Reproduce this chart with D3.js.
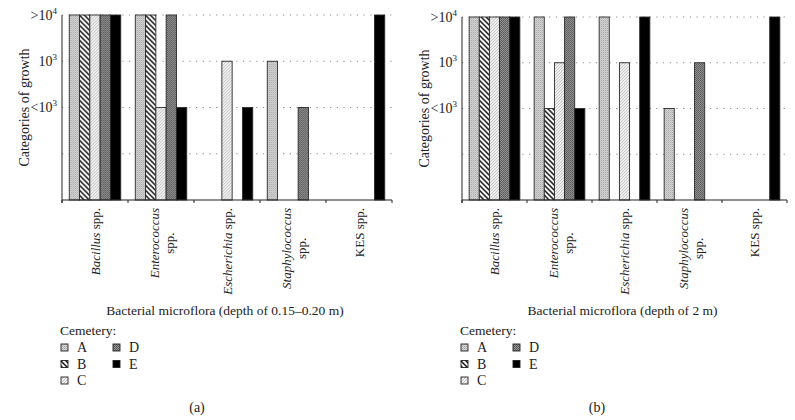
<!DOCTYPE html>
<html>
<head>
<meta charset="utf-8">
<script src="https://cdn.jsdelivr.net/npm/d3@7"></script>
<style>
  html, body { margin: 0; padding: 0; background: #fff; }
  svg { display: block; font-family: "Liberation Serif", "Times New Roman", serif; }
</style>
</head>
<body>
<svg id="chart" width="795" height="420"></svg>
<script>
// ---- data ----
const categories = ["Bacillus", "Enterococcus", "Escherichia", "Staphylococcus", "KES"];
const cemeteries = ["A", "B", "C", "D", "E"];
// growth category levels: 0 none, 2 = <10^3, 3 = 10^3, 4 = >10^4
const levelTicks = [1, 2, 3, 4];
const levelLabels = { 2: ["<10", "3"], 3: ["10", "3"], 4: [">10", "4"] };

// panel (a): depth 0.15–0.20 m  — values per category, in cemetery order A..E
const seriesA_a = [4, 4, 0, 3, 0];
const seriesB_a = [4, 4, 0, 0, 0];
const seriesC_a = [4, 2, 3, 0, 0];
const seriesD_a = [4, 4, 0, 2, 0];
const seriesE_a = [4, 2, 2, 0, 4];

// panel (b): depth 2 m
const seriesA_b = [4, 4, 4, 2, 0];
const seriesB_b = [4, 2, 0, 0, 0];
const seriesC_b = [4, 3, 3, 0, 0];
const seriesD_b = [4, 4, 0, 3, 0];
const seriesE_b = [4, 2, 4, 0, 4];

const titleA = "Bacterial microflora (depth of 0.15–0.20 m)";
const titleB = "Bacterial microflora (depth of 2 m)";

// ---- drawing ----
const svg = d3.select("#chart");
const defs = svg.append("defs");

// A: light grey speckle
const pA = defs.append("pattern").attr("id", "patA").attr("patternUnits", "userSpaceOnUse").attr("width", 2).attr("height", 2);
pA.append("rect").attr("width", 2).attr("height", 2).attr("fill", "#d8d8d8");
pA.append("rect").attr("width", 1).attr("height", 1).attr("fill", "#a2a2a2");
pA.append("rect").attr("x", 1).attr("y", 1).attr("width", 1).attr("height", 1).attr("fill", "#bdbdbd");
// B: black diagonal hatch "\"
const pB = defs.append("pattern").attr("id", "patB").attr("patternUnits", "userSpaceOnUse").attr("width", 5).attr("height", 5);
pB.append("rect").attr("width", 5).attr("height", 5).attr("fill", "#fff");
pB.append("path").attr("d", "M-1,-1 L6,6 M-1,4 L1,6 M4,-1 L6,1").attr("stroke", "#111").attr("stroke-width", 1.5);
// C: fine light diagonal
const pC = defs.append("pattern").attr("id", "patC").attr("patternUnits", "userSpaceOnUse").attr("width", 3).attr("height", 3);
pC.append("rect").attr("width", 3).attr("height", 3).attr("fill", "#f2f2f2");
pC.append("path").attr("d", "M-1,4 L4,-1 M-1,1 L1,-1 M2,4 L4,2").attr("stroke", "#b4b4b4").attr("stroke-width", 0.8);
// D: dark checker
const pD = defs.append("pattern").attr("id", "patD").attr("patternUnits", "userSpaceOnUse").attr("width", 2).attr("height", 2);
pD.append("rect").attr("width", 2).attr("height", 2).attr("fill", "#9a9a9a");
pD.append("rect").attr("width", 1).attr("height", 1).attr("fill", "#505050");
pD.append("rect").attr("x", 1).attr("y", 1).attr("width", 1).attr("height", 1).attr("fill", "#5c5c5c");

const fills = { A: "url(#patA)", B: "url(#patB)", C: "url(#patC)", D: "url(#patD)", E: "#000" };
const FS = 13;

function drawPanel(cfg) {
  const g = svg.append("g");
  const series = cfg.series;
  const rows = categories.map((c, i) => ({ cat: c, vals: cemeteries.map((k, j) => ({ key: k, v: series[j][i] })) }));

  const x = d3.scaleBand().domain(categories).range([cfg.x0, cfg.x1]).paddingInner(0.22).paddingOuter(0.11);
  const xs = d3.scaleBand().domain(cemeteries).range([0, x.bandwidth()]);
  const y = d3.scaleLinear().domain([0, 4]).range([cfg.yb, cfg.yt]);

  // dotted gridlines
  g.selectAll("line.grid").data(levelTicks).join("line")
    .attr("x1", cfg.x0).attr("x2", cfg.x1)
    .attr("y1", d => y(d)).attr("y2", d => y(d))
    .attr("stroke", "#8a8a8a").attr("stroke-width", 1).attr("stroke-dasharray", "1.2,5.5");

  // bars
  const grp = g.selectAll("g.cat").data(rows).join("g")
    .attr("transform", d => `translate(${x(d.cat)},0)`);
  grp.selectAll("rect").data(d => d.vals.filter(v => v.v > 0)).join("rect")
    .attr("x", d => xs(d.key)).attr("width", xs.bandwidth())
    .attr("y", d => y(d.v)).attr("height", d => y(0) - y(d.v))
    .attr("fill", d => fills[d.key]).attr("stroke", "#2a2a2a").attr("stroke-width", 0.9);

  // axes
  g.append("line").attr("x1", cfg.x0).attr("x2", cfg.x0).attr("y1", y(4)).attr("y2", y(0) + 3)
    .attr("stroke", "#222").attr("stroke-width", 1);
  g.append("line").attr("x1", cfg.x0).attr("x2", cfg.x1).attr("y1", y(0)).attr("y2", y(0))
    .attr("stroke", "#222").attr("stroke-width", 1);
  const boundaries = d3.range(categories.length + 1).map(i => cfg.x0 + i * x.step());
  g.selectAll("line.xt").data(boundaries).join("line")
    .attr("x1", d => d).attr("x2", d => d).attr("y1", y(0)).attr("y2", y(0) + 3)
    .attr("stroke", "#222").attr("stroke-width", 1);

  // y tick labels
  const yl = g.selectAll("text.yl").data([2, 3, 4]).join("text")
    .attr("x", cfg.x0 - 5).attr("y", d => y(d) + 4.5)
    .attr("text-anchor", "end").attr("font-size", 14).attr("fill", "#222");
  yl.append("tspan").text(d => levelLabels[d][0]);
  yl.append("tspan").attr("dy", -6).attr("font-size", 9).text(d => levelLabels[d][1]);

  // y title
  g.append("text").attr("transform", `translate(${cfg.x0 - 33},${(y(0) + y(4)) / 2}) rotate(-90)`)
    .attr("text-anchor", "middle").attr("font-size", 14).attr("fill", "#222").text("Categories of growth");

  // x category labels (rotated)
  const twoLine = { Enterococcus: true, Staphylococcus: true };
  categories.forEach(c => {
    const cx = x(c) + x.bandwidth() / 2;
    if (twoLine[c]) {
      const t1 = g.append("text").attr("transform", `translate(${cx - 2},${y(0) + 8}) rotate(-90)`)
        .attr("text-anchor", "end").attr("font-size", FS).attr("fill", "#222");
      t1.append("tspan").attr("font-style", "italic").text(c);
      const t2 = g.append("text").attr("text-anchor", "end").attr("font-size", FS).attr("fill", "#222");
      t2.append("tspan").text("spp.");
      const w1 = t1.node().getComputedTextLength();
      const w2 = t2.node().getComputedTextLength();
      t2.attr("transform", `translate(${cx + 13},${y(0) + 8 + (w1 - w2) / 2}) rotate(-90)`);
    } else {
      const t = g.append("text").attr("transform", `translate(${cx + 4.5},${y(0) + 8}) rotate(-90)`)
        .attr("text-anchor", "end").attr("font-size", FS).attr("fill", "#222");
      if (c === "KES") t.append("tspan").text("KES spp.");
      else {
        t.append("tspan").attr("font-style", "italic").text(c);
        t.append("tspan").text(" spp.");
      }
    }
  });

  // x title
  g.append("text").attr("x", (cfg.x0 + cfg.x1) / 2 - 2).attr("y", 315)
    .attr("text-anchor", "middle").attr("font-size", 13.5).attr("fill", "#222").text(cfg.title);

  // legend
  const lx = cfg.x0 - 2;
  g.append("text").attr("x", lx).attr("y", 335).attr("font-size", 13.5).attr("fill", "#222").text("Cemetery:");
  const legPos = [[0, 0], [0, 1], [0, 2], [1, 0], [1, 1]];
  cemeteries.forEach((k, i) => {
    const px = lx + 1 + legPos[i][0] * 52;
    const py = 344 + legPos[i][1] * 16.5;
    g.append("rect").attr("x", px).attr("y", py).attr("width", 7).attr("height", 7)
      .attr("fill", fills[k]).attr("stroke", "#222").attr("stroke-width", 0.9);
    g.append("text").attr("x", px + 16).attr("y", py + 8).attr("font-size", 14).attr("fill", "#222").text(k);
  });

  // panel caption
  g.append("text").attr("x", cfg.capX).attr("y", 412).attr("text-anchor", "middle")
    .attr("font-size", 14).attr("fill", "#222").text(cfg.caption);
}

drawPanel({ x0: 62, x1: 392, yt: 15, yb: 200, title: titleA, caption: "(a)", capX: 197,
  series: [seriesA_a, seriesB_a, seriesC_a, seriesD_a, seriesE_a] });
drawPanel({ x0: 462, x1: 787, yt: 17, yb: 200, title: titleB, caption: "(b)", capX: 597,
  series: [seriesA_b, seriesB_b, seriesC_b, seriesD_b, seriesE_b] });
</script>
</body>
</html>
